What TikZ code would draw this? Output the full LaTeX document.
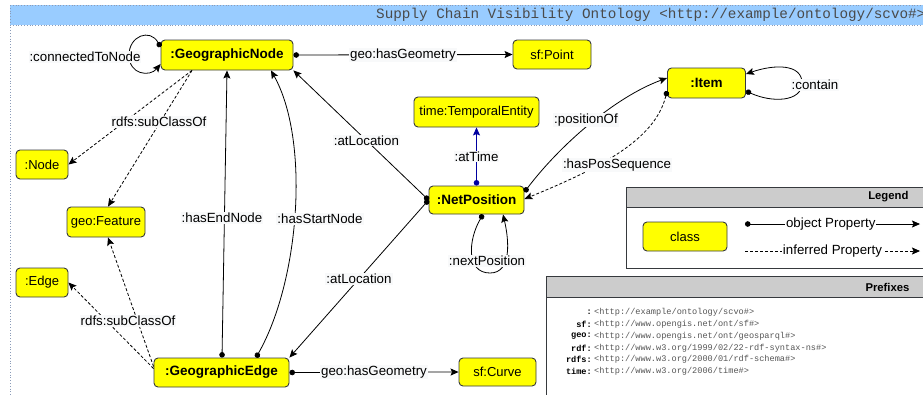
\documentclass[tikz,border=0pt]{standalone}
\usepackage{fontspec}
\setmainfont{Liberation Sans}
\setmonofont{Liberation Mono}
\usetikzlibrary{arrows.meta,calc}
\definecolor{clsfill}{HTML}{FFFF00}
\definecolor{clsline}{HTML}{36393D}
\definecolor{bandblue}{HTML}{99CCFF}
\definecolor{framedot}{HTML}{8A9BB8}
\definecolor{lblbg}{HTML}{F8F9FA}
\definecolor{hdrgray}{HTML}{CCCCCC}
\definecolor{urigray}{HTML}{555555}
\definecolor{titlegray}{HTML}{4A4A4A}
\definecolor{timeblue}{HTML}{0000A0}

\tikzset{
  cls/.style={draw=clsline, fill=clsfill, rounded corners=4pt, line width=0.9pt,
    inner sep=0pt, font=\fontsize{13}{15}\selectfont},
  bcls/.style={cls, font=\fontsize{13.5}{15}\selectfont\bfseries},
  lbl/.style={fill=lblbg, inner sep=1pt, font=\fontsize{13.3}{15}\selectfont},
  objprop/.style={line width=0.8pt, {Circle[length=5.5pt]}-{Stealth[length=8pt,width=7pt,inset=1.5pt]}},
  infprop/.style={line width=0.8pt, dash pattern=on 3pt off 2pt, -{Stealth[length=8pt,width=7pt,inset=1.5pt]}},
  boxframe/.style={draw=clsline, line width=0.9pt},
  hdr/.style={font=\fontsize{11.3}{13}\selectfont\bfseries, anchor=east},
  pfx/.style={font=\fontsize{8.6}{10}\ttfamily\bfseries, anchor=east, inner sep=0pt},
  uri/.style={font=\fontsize{8.6}{10}\ttfamily, text=urigray, anchor=west, inner sep=0pt},
}

\begin{document}
\begin{tikzpicture}[x=1pt,y=-1pt]
\useasboundingbox (0,0) rectangle (923,394);

% ---- ontology frame and title band ----
\fill[bandblue] (10,5) rectangle (926,25);
\draw[framedot, dotted, line width=0.8pt] (10,5) -- (926,5);
\draw[framedot, dotted, line width=0.8pt] (10,25) -- (926,25);
\draw[framedot, dotted, line width=0.8pt] (10,5) -- (10,396);
\node[anchor=west, inner sep=0pt, text=titlegray, font=\fontsize{14.3}{16}\ttfamily] (title) at (376,15)
  {Supply Chain Visibility Ontology <http://example/ontology/scvo\#>};

% ---- classes ----
\node[bcls, minimum width=132pt, minimum height=30pt] (gnode) at (227,55) {:GeographicNode};
\node[cls, minimum width=78pt, minimum height=29pt] (point) at (552,54.5) {sf:Point};
\node[cls, minimum width=125pt, minimum height=30pt] (temporal) at (476.5,112) {time:TemporalEntity};
\node[bcls, minimum width=78pt, minimum height=30pt] (item) at (706.5,83) {:Item};
\node[cls, minimum width=52pt, minimum height=29pt] (nodecls) at (42,164.5) {:Node};
\node[cls, minimum width=78pt, minimum height=30pt] (feature) at (106,222) {geo:Feature};
\node[bcls, minimum width=95pt, minimum height=28pt] (netpos) at (476.5,200) {:NetPosition};
\node[cls, minimum width=52pt, minimum height=29pt] (edgecls) at (42,282.5) {:Edge};
\node[bcls, minimum width=135pt, minimum height=29pt] (gedge) at (221.5,372.5) {:GeographicEdge};
\node[cls, minimum width=77pt, minimum height=28pt] (curve) at (497.5,372) {sf:Curve};

% ---- object properties ----
% connectedToNode loop
\draw[objprop] ([yshift=8pt]gnode.west) .. controls (150,28) and (129,36) .. (129,55)
  .. controls (129,75) and (150,77) .. ([yshift=-9pt]gnode.west);
\node[lbl] (lconn) at (85,57) {:connectedToNode};

\draw[objprop] (gnode.east) -- node[lbl] (lgeo1) {geo:hasGeometry} (point.west);

% subclass links of GeographicNode
\draw[infprop] ([xshift=-35pt]gnode.south) -- (nodecls.east);
\draw[infprop] ([xshift=-35pt]gnode.south) -- ([xshift=2pt]feature.north);
\node[lbl] (lsub1) at (159,122) {rdfs:subClassOf};

% subclass links of GeographicEdge
\draw[infprop] ([yshift=4pt]gedge.west) -- (edgecls.east);
\draw[infprop] ([yshift=6pt]gedge.west) -- ([xshift=2pt]feature.south);
\node[lbl] (lsub2) at (128,321) {rdfs:subClassOf};

% end / start node
\draw[objprop] ([xshift=0.5pt]gedge.north) -- (gnode.south);
\node[lbl] (lend) at (222,218) {:hasEndNode};
\draw[objprop] ([xshift=34.5pt]gedge.north) .. controls (300,280) and (310,140) .. ([xshift=44pt]gnode.south);
\node[lbl] (lstart) at (320,219) {:hasStartNode};

% atLocation
\draw[objprop] (netpos.west) -- node[lbl, pos=0.46] (lloc1) {:atLocation} (gnode.south east);
\draw[objprop] (netpos.west) -- node[lbl, pos=0.5] (lloc2) {:atLocation} (gedge.north east);

% atTime
\draw[objprop, timeblue] (netpos.north) -- node[lbl, text=black] (ltime) {:atTime} (temporal.south);

% positionOf / hasPosSequence
\draw[objprop] ([yshift=8pt]netpos.east) .. controls (560,145) and (615,97) .. ([yshift=5pt]item.west);
\node[lbl] (lpos) at (586,120) {:positionOf};
\draw[infprop, {Circle[length=5.5pt]}-{Stealth[length=8pt,width=7pt,inset=1.5pt]}]
  ([yshift=-8pt]item.west) .. controls (655,140) and (600,168) .. ([yshift=1pt]netpos.east);
\node[lbl] (lseq) at (617,165) {:hasPosSequence};

% contain loop
\draw[objprop] ([yshift=-8pt]item.east) .. controls (772,103) and (802,102) .. (802,83)
  .. controls (802,64) and (775,64) .. ([yshift=9pt]item.east);
\node[lbl] (lcontain) at (815,85) {:contain};

% nextPosition loop
\draw[objprop] ([xshift=6.5pt]netpos.south) .. controls (468,240) and (466,273) .. (490,273)
  .. controls (512,273) and (509,240) .. ([xshift=26.5pt]netpos.south);
\node[lbl] (lnext) at (487,261) {:nextPosition};

\draw[objprop] (gedge.east) -- node[lbl] (lgeo2) {geo:hasGeometry} (curve.west);

% ---- legend ----
\fill[hdrgray] (626,187) rectangle (926,207);
\draw[boxframe] (626,207) -- (926,207);
\draw[boxframe] (926,187) -- (626,187) -- (626,268) -- (926,268);
\node[hdr] (leghdr) at (912,197) {Legend};
\node[cls, minimum width=84pt, minimum height=29pt] (legcls) at (685,236.5) {class};
\coordinate (lo1) at (745,224);
\coordinate (lo2) at (920,224);
\draw[objprop] (lo1) -- node[lbl, fill=white, pos=0.49] (lobj) {object Property} (lo2);
\coordinate (li1) at (745,251);
\coordinate (li2) at (920,251);
\draw[infprop] (li1) -- node[lbl, fill=white, pos=0.5] (linf) {inferred Property} (li2);

% ---- prefixes ----
\fill[hdrgray] (546,276) rectangle (926,297);
\draw[boxframe] (546,297) -- (926,297);
\draw[boxframe] (926,276) -- (546,276) -- (546,398);
\node[hdr] (pfxhdr) at (913,287) {Prefixes};
\foreach \p/\u/\y [count=\i] in {
    /{<http://example/ontology/scvo\#>}/312,
    sf/{<http://www.opengis.net/ont/sf\#>}/324,
    geo/{<http://www.opengis.net/ont/geosparql\#>}/336,
    rdf/{<http://www.w3.org/1999/02/22-rdf-syntax-ns\#>}/348,
    rdfs/{<http://www.w3.org/2000/01/rdf-schema\#>}/359.5,
    time/{<http://www.w3.org/2006/time\#>}/371} {
  \node[pfx] (p\i) at (592,\y) {\p:};
  \node[uri] (u\i) at (594,\y) {\u};
}
\end{tikzpicture}
\end{document}
